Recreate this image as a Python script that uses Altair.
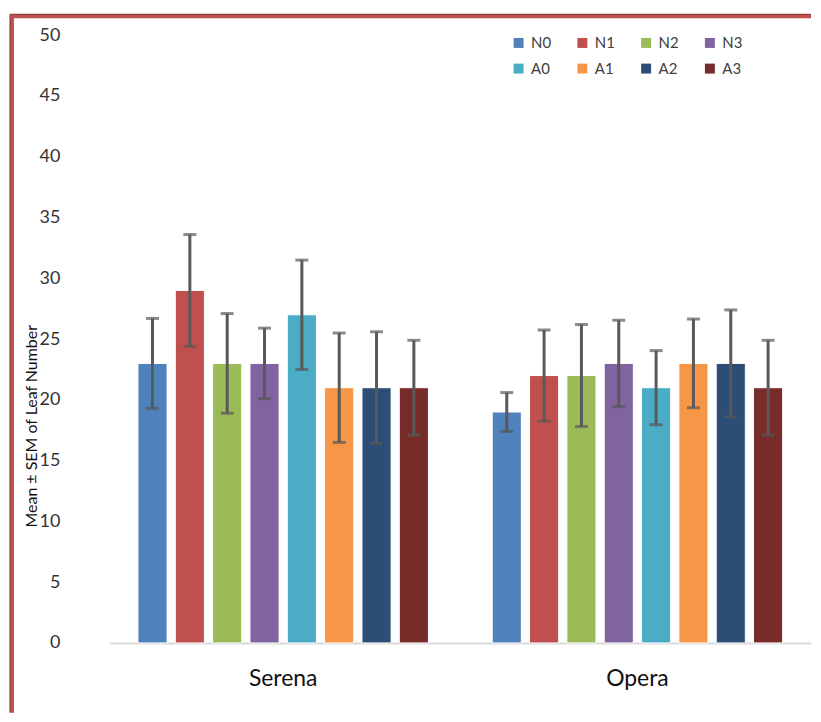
import altair as alt
import pandas as pd

series = ["N0", "N1", "N2", "N3", "A0", "A1", "A2", "A3"]
varieties = ["Serena", "Opera"]
serena_mean = [23, 29, 23, 23, 27, 21, 21, 21]
serena_sem = [3.7, 4.6, 4.1, 2.9, 4.5, 4.5, 4.6, 3.9]
opera_mean = [19, 22, 22, 23, 21, 23, 23, 21]
opera_sem = [1.6, 3.75, 4.2, 3.55, 3.05, 3.65, 4.4, 3.9]
colors = ["#4F81BD", "#C0504D", "#9BBB59", "#8064A2",
          "#4BACC6", "#F79646", "#2C4D75", "#772C2A"]
y_ticks = [0, 5, 10, 15, 20, 25, 30, 35, 40, 45, 50]

rows = []
for v, means, sems in [("Serena", serena_mean, serena_sem), ("Opera", opera_mean, opera_sem)]:
    for s, m, e in zip(series, means, sems):
        rows.append({"variety": v, "series": s, "mean": m, "sem": e})
df = pd.DataFrame(rows)

W, H = 704, 610

base = alt.Chart(df).transform_calculate(
    lo="datum.mean - datum.sem", hi="datum.mean + datum.sem"
).encode(
    x=alt.X("variety:N", sort=varieties,
            scale=alt.Scale(paddingInner=0.18, paddingOuter=0.08),
            axis=alt.Axis(title=None, labelFontSize=23, labelPadding=25,
                          domainColor="#D9D9D9", domainWidth=2, ticks=False,
                          labelAngle=0, labelColor="#111111")),
    xOffset=alt.XOffset("series:N", sort=series,
                        scale=alt.Scale(paddingInner=0.22, paddingOuter=0)),
)

yscale = alt.Scale(domain=[0, 50], nice=False)

bars = base.mark_bar(stroke="white", strokeWidth=1).encode(
    y=alt.Y("mean:Q", scale=yscale,
            axis=alt.Axis(title="Mean ± SEM of Leaf Number", values=y_ticks,
                          grid=False, domain=False, ticks=False,
                          labelPadding=50, labelFontSize=18, labelColor="#333333",
                          titleFontSize=16, titleFontWeight="normal",
                          titleColor="#111111", titleX=-78, titleY=392,
                          titleAngle=270, titleAlign="center",
                          titleBaseline="middle")),
    color=alt.Color("series:N", sort=series,
                    scale=alt.Scale(domain=series, range=colors),
                    legend=alt.Legend(title=None, orient="none", legendX=403,
                                      legendY=0, columns=4, direction="horizontal",
                                      symbolType="square",
                                      symbolSize=100, labelFontSize=15,
                                      columnPadding=23, rowPadding=10,
                                      labelOffset=5, symbolStrokeWidth=0,
                                      labelColor="#404040")),
)

err = base.mark_rule(color="#595959", strokeWidth=3).encode(
    y=alt.Y("lo:Q", scale=yscale), y2="hi:Q")
cap_hi = base.mark_tick(color="#595959", thickness=3, size=13).encode(
    y=alt.Y("hi:Q", scale=yscale))
cap_lo = base.mark_tick(color="#595959", thickness=3, size=13).encode(
    y=alt.Y("lo:Q", scale=yscale))

one = alt.Chart(pd.DataFrame({"a": [0]}))
left_red = one.mark_rule(color="#C0504D", strokeWidth=4).encode(
    x=alt.value(-98), y=alt.value(-19), y2=alt.value(H + 70))
left_dark = one.mark_rule(color="#7A2E2C", strokeWidth=1).encode(
    x=alt.value(-100), y=alt.value(-21), y2=alt.value(H + 70))
top_red = one.mark_rule(color="#C0504D", strokeWidth=4).encode(
    x=alt.value(-100), x2=alt.value(W), y=alt.value(-19))
top_dark = one.mark_rule(color="#7A2E2C", strokeWidth=1).encode(
    x=alt.value(-100), x2=alt.value(W), y=alt.value(-21))

chart = alt.layer(bars, err, cap_hi, cap_lo, left_red, left_dark, top_red, top_dark).properties(
    width=W, height=H,
    padding={"left": 0, "top": 4, "right": 0, "bottom": 0},
).configure(font="Lato", view=alt.ViewConfig(stroke=None))

chart.save("out.html", embed_options={"renderer": "svg", "actions": False})
